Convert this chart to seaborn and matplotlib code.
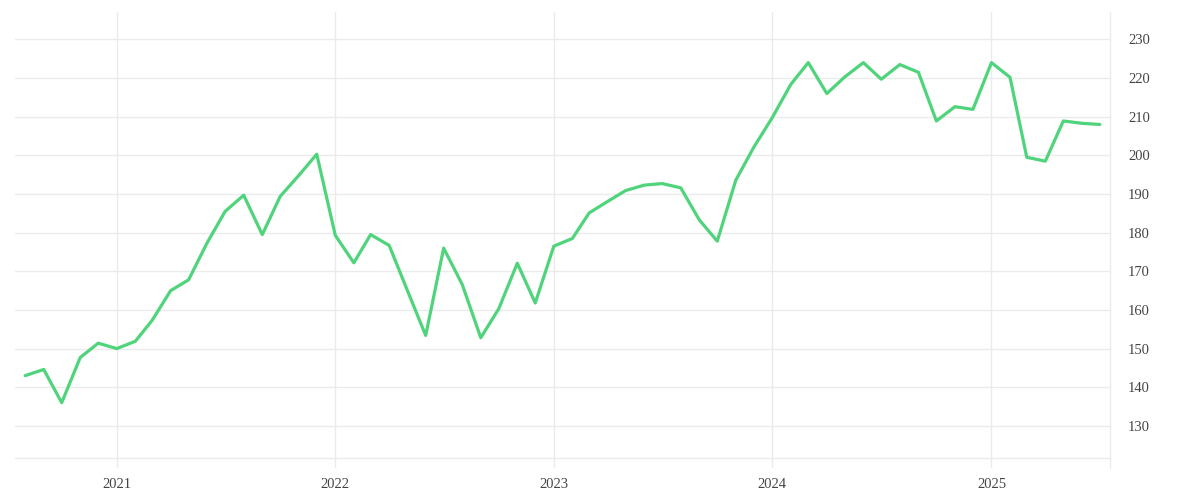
import pandas as pd
import seaborn as sns
import matplotlib.pyplot as plt
import matplotlib.dates as mdates

# valeurs mensuelles (aout 2020 -> juillet 2025)
mois = pd.date_range("2020-08-01", "2025-07-01", freq="MS")
valeurs = [
    143.0, 144.6, 136.0, 147.7, 151.4,
    150.0, 151.9, 157.3, 165.0, 167.8, 177.4, 185.5, 189.7, 179.5, 189.4, 194.8, 200.3,
    179.3, 172.2, 179.5, 176.7, 165.2, 153.4, 176.0, 166.6, 152.8, 160.3, 172.1, 161.8,
    176.5, 178.5, 185.1, 188.1, 190.9, 192.3, 192.7, 191.6, 183.3, 177.8, 193.6, 202.1,
    209.8, 218.4, 224.0, 216.0, 220.3, 224.0, 219.7, 223.5, 221.5, 208.9, 212.6, 211.9,
    224.0, 220.2, 199.5, 198.5, 208.9, 208.3, 208.0,
]
y_ticks = [130, 140, 150, 160, 170, 180, 190, 200, 210, 220, 230]
annees = ["2021", "2022", "2023", "2024", "2025"]

df = pd.DataFrame({"date": mois, "valeur": valeurs})

sns.set_theme(style="white")
plt.rcParams["font.family"] = ["Liberation Serif", "DejaVu Serif"]

fig = plt.figure(figsize=(12, 5), dpi=100)
ax = fig.add_axes([0.0125, 0.064, 0.9125, 0.912])

grille = "#ebebeb"
sns.lineplot(data=df, x="date", y="valeur", color="#4fd47c", linewidth=2.3, ax=ax)

ax.set_xlim(pd.Timestamp("2020-07-15"), pd.Timestamp("2025-07-18"))
ax.set_ylim(119.1, 237.1)

ax.set_xticks([pd.Timestamp(a + "-01-01") for a in annees])
ax.set_xticklabels(annees)
ax.set_yticks(y_ticks)
ax.yaxis.tick_right()

ax.grid(True, color=grille, linewidth=1)
ax.axhline(121.7, color=grille, linewidth=1)  # ligne de base
for cote in ["top", "left", "bottom"]:
    ax.spines[cote].set_visible(False)
ax.spines["right"].set_color(grille)
ax.spines["right"].set_linewidth(1)

ax.tick_params(axis="y", length=0, pad=13, labelsize=10.5, labelcolor="#444444")
ax.tick_params(axis="x", length=0, pad=7, labelsize=10.5, labelcolor="#444444")
ax.set_xlabel("")
ax.set_ylabel("")

fig.savefig("out.png", dpi=100)
